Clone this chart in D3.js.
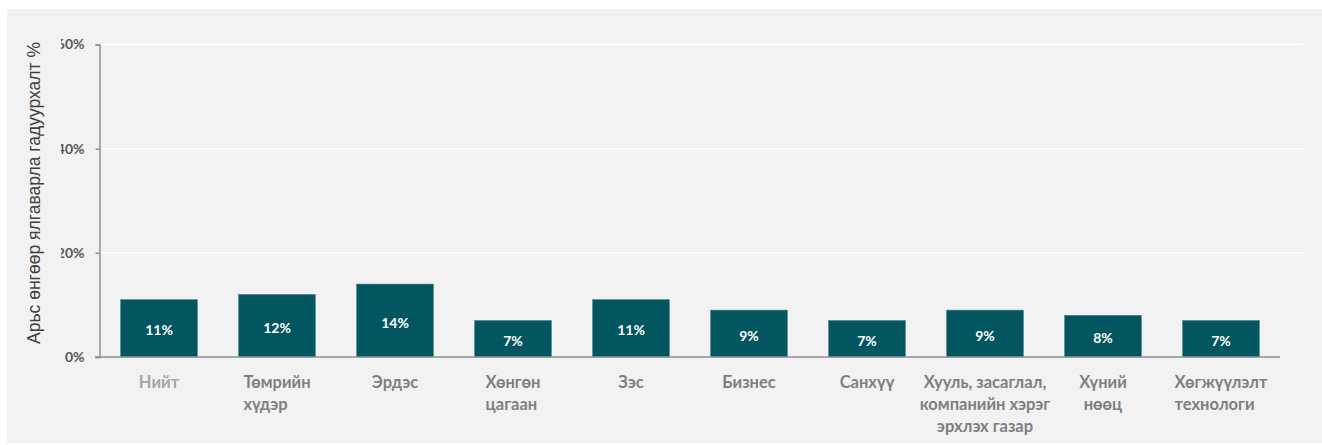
<!DOCTYPE html>
<html>
<head>
<meta charset="utf-8">
<script src="https://cdn.jsdelivr.net/npm/d3@7/dist/d3.min.js"></script>
<style>
  html, body { margin: 0; padding: 0; background: #ffffff; }
  svg { display: block; }
</style>
</head>
<body>
<svg id="chart" width="1322" height="445"></svg>
<script>
// Discrimination rate by department
const categories = [
  ["Нийт"],
  ["Төмрийн", "хүдэр"],
  ["Эрдэс"],
  ["Хөнгөн", "цагаан"],
  ["Зэс"],
  ["Бизнес"],
  ["Санхүү"],
  ["Хууль, засаглал,", "компанийн хэрэг", "эрхлэх газар"],
  ["Хүний", "нөөц"],
  ["Хөгжүүлэлт", "технологи"]
];
const values = [11, 12, 14, 7, 11, 9, 7, 9, 8, 7];
const lineAlign = ["middle", "start", "middle", "start", "middle", "middle", "middle", "middle", "middle", "start"];
const yTicks = [0, 20, 40, 60];
const yTitle = "Арьс өнгөөр ялгаварла гадуурхалт %";

const svg = d3.select("#chart");
const FONT = "Lato, 'Open Sans', 'DejaVu Sans', sans-serif";

// panel background
svg.append("rect")
  .attr("x", 7).attr("y", 9)
  .attr("width", 1315).attr("height", 434)
  .attr("fill", "#f2f2f2");

const keys = categories.map((c, i) => i);
const x = d3.scaleBand().domain(keys).range([100, 1280]).paddingInner(0.35).paddingOuter(0.175);
const y = d3.scaleLinear().domain([0, 60]).range([357, 44.5]);

// horizontal gridlines
svg.append("g")
  .selectAll("line")
  .data(yTicks.filter(t => t > 0))
  .join("line")
  .attr("x1", 100).attr("x2", 1303)
  .attr("y1", d => y(d)).attr("y2", d => y(d))
  .attr("stroke", "#ffffff").attr("stroke-width", 1.5);

// y axis (labels trimmed on the left edge of the label column)
svg.append("clipPath").attr("id", "tickclip")
  .append("rect").attr("x", 61).attr("y", 0).attr("width", 1261).attr("height", 445);

const yAxis = svg.append("g")
  .attr("clip-path", "url(#tickclip)")
  .append("g")
  .attr("transform", "translate(99.5,0)")
  .call(d3.axisLeft(y).tickValues(yTicks).tickFormat(d => d + "%").tickSize(4).tickPadding(11));
yAxis.select(".domain").attr("stroke", "#8a9099").attr("stroke-width", 1.5);
yAxis.selectAll(".tick line").attr("stroke", "#8a9099").attr("stroke-width", 1.5);
yAxis.selectAll(".tick text")
  .attr("fill", "#595959")
  .attr("font-family", FONT)
  .attr("font-weight", 700)
  .attr("font-size", 14);

// bars
svg.append("g")
  .selectAll("rect")
  .data(values)
  .join("rect")
  .attr("x", (d, i) => x(i))
  .attr("y", d => y(d))
  .attr("width", x.bandwidth())
  .attr("height", d => y(0) - y(d))
  .attr("fill", "#03555f")
  .attr("stroke", "#3f7f88")
  .attr("stroke-width", 0.6);

// value labels
svg.append("g")
  .selectAll("text")
  .data(values)
  .join("text")
  .attr("x", (d, i) => x(i) + x.bandwidth() / 2)
  .attr("y", d => (y(d) + y(0)) / 2 + 7)
  .attr("text-anchor", "middle")
  .attr("fill", "#ffffff")
  .attr("font-family", FONT)
  .attr("font-weight", 700)
  .attr("font-size", 14)
  .text(d => d + "%");

// x axis line
svg.append("line")
  .attr("x1", 95).attr("x2", 1280)
  .attr("y1", y(0)).attr("y2", y(0))
  .attr("stroke", "#8a9099").attr("stroke-width", 1.5);

// category labels
const catG = svg.append("g");
categories.forEach((lines, i) => {
  const cx = x(i) + x.bandwidth() / 2;
  const t = catG.append("text")
    .attr("font-family", FONT)
    .attr("font-weight", 700)
    .attr("font-size", 16.5)
    .attr("fill", i === 0 ? "#a6a6a6" : "#7f7f7f");
  const spans = lines.map((s, k) => t.append("tspan").attr("y", 388 + k * 22).text(s));
  if (lineAlign[i] === "start") {
    const w = d3.max(spans, s => s.node().getComputedTextLength());
    spans.forEach(s => s.attr("x", cx - w / 2));
    t.attr("text-anchor", "start");
  } else {
    spans.forEach(s => s.attr("x", cx));
    t.attr("text-anchor", "middle");
  }
});

// y axis title
svg.append("text")
  .attr("transform", "translate(40,193) rotate(-90)")
  .attr("text-anchor", "middle")
  .attr("font-family", "'Liberation Sans', Arial, sans-serif")
  .attr("font-size", 17.5)
  .attr("fill", "#404040")
  .text(yTitle);
</script>
</body>
</html>
